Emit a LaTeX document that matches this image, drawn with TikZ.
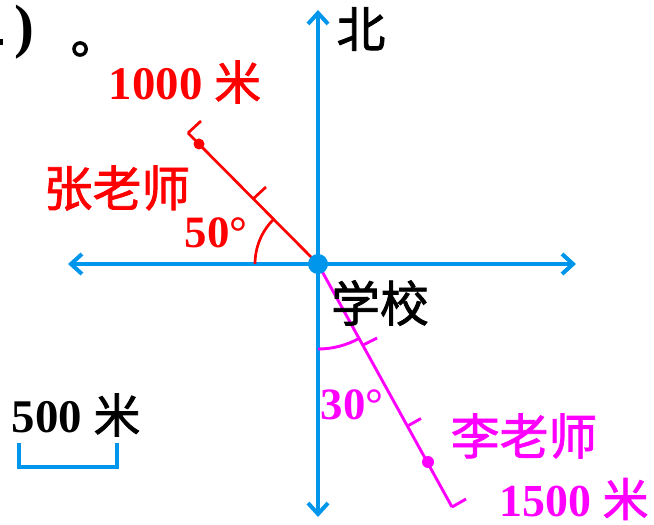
\documentclass[tikz,border=0pt]{standalone}
\usepackage{fontspec}
\setmainfont{Liberation Serif}
\newfontfamily\cjk[FakeBold=1.6]{Noto Sans CJK SC}
\usetikzlibrary{arrows.meta}
\definecolor{axisblue}{RGB}{0,150,235}
\definecolor{zred}{RGB}{255,0,0}
\definecolor{lmag}{RGB}{255,0,255}
\tikzset{
  axis/.style={draw=axisblue, line width=4bp, {Straight Barb[length=11bp,width=20bp]}-{Straight Barb[length=11bp,width=20bp]}},
  zline/.style={draw=zred, line width=2.7bp},
  lline/.style={draw=lmag, line width=2.9bp},
  lbl/.style={inner sep=0pt, anchor=center},
  cjkbig/.style={font=\fontsize{49}{52}\selectfont\cjk},
}
\begin{document}
\begin{tikzpicture}[x=1bp,y=-1bp]
\useasboundingbox (0,0) rectangle (654,525);
% axes
\coordinate (O) at (318,264);
\coordinate (W) at (68,264);
\coordinate (E) at (576,264);
\coordinate (N) at (318,10);
\coordinate (S) at (318,517);
\draw[axis] (W) -- (E);
\draw[axis] (S) -- (N);
% red line (Zhang)
\coordinate (E1) at (188,133);
\coordinate (M1) at (253,199);
\coordinate (M1t) at (266,187);
\coordinate (E1t) at (201,121);
\coordinate (D1) at (199,144);
\draw[zline] (O) -- (E1);
\draw[zline] (M1) -- (M1t);
\draw[zline] (E1) -- (E1t);
\fill[zred] (D1) circle[radius=5.5];
\draw[zline] (255,264) arc[start angle=180, end angle=225.2, radius=63];
% magenta line (Li)
\coordinate (E2) at (452,507);
\coordinate (T1) at (363,345);
\coordinate (T1t) at (377,338);
\coordinate (T2) at (407.5,426);
\coordinate (T2t) at (421,418.5);
\coordinate (E2t) at (466,499);
\coordinate (D2) at (428,462);
\draw[lline] (O) -- (E2);
\draw[lline] (T1) -- (T1t);
\draw[lline] (T2) -- (T2t);
\draw[lline] (E2) -- (E2t);
\fill[lmag] (D2) circle[radius=6];
\draw[lline] (318,349) arc[start angle=90, end angle=61.1, radius=85];
\fill[axisblue] (O) circle[radius=10];
% scale bar
\coordinate (B1) at (19,443);
\coordinate (B2) at (19,467);
\coordinate (B3) at (117,467);
\coordinate (B4) at (117,443);
\draw[draw=axisblue, line width=3.5bp] (B1) -- (B2) -- (B3) -- (B4);
% labels
\node[lbl, text=zred, font=\bfseries\fontsize{47}{50}\selectfont] (l1000) at (185,82) {1000 {\mdseries\cjk 米}};
\node[lbl, text=zred, cjkbig] (lzhang) at (117,188) {张老师};
\node[lbl, text=zred, font=\bfseries\fontsize{45}{50}\selectfont] (l50) at (216,233) {50°};
\node[lbl, cjkbig] (lbei) at (361,29) {北};
\node[lbl, cjkbig] (lxx) at (380,303) {学校};
\node[lbl, text=lmag, font=\bfseries\fontsize{45}{50}\selectfont] (l30) at (352,405) {30°};
\node[lbl, text=lmag, cjkbig] (lli) at (524,436) {李老师};
\node[lbl, text=lmag, font=\bfseries\fontsize{46}{50}\selectfont] (l1500) at (574,499) {1500 {\mdseries\cjk 米}};
\node[lbl, font=\bfseries\fontsize{47}{50}\selectfont] (l500) at (76,415) {500 {\mdseries\cjk 米}};
\node[lbl, font=\bfseries\fontsize{60}{64}\selectfont] (lparen) at (24,32) {)};
\node[lbl, font=\fontsize{49}{52}\selectfont\cjk] (lpt) at (95,49) {。};
\fill (0,39) rectangle (3,45);
\end{tikzpicture}
\end{document}
